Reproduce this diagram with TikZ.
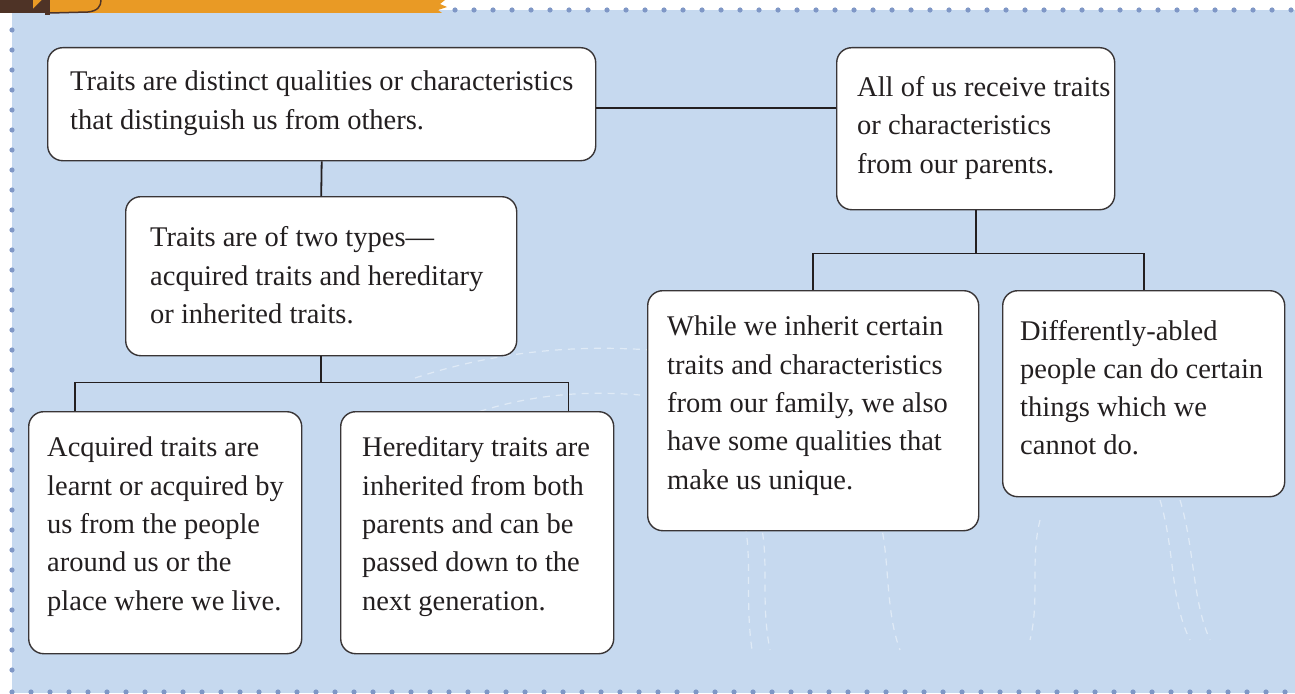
\documentclass[tikz,border=0pt]{standalone}
\usepackage{fontspec}
\setmainfont{Liberation Serif}
\usetikzlibrary{calc}
\definecolor{bgblue}{HTML}{C6D9EF}
\definecolor{dotblue}{HTML}{7F97C6}
\definecolor{band}{HTML}{E99A25}
\definecolor{brown}{HTML}{4E3326}
\definecolor{ink}{HTML}{231F20}
\tikzset{
  box/.style={draw=ink!90, line width=1.4pt, fill=white, rounded corners=15pt, inner sep=0pt, anchor=north west},
  txt/.style={anchor=west, align=left, inner sep=0pt, text=ink, font=\fontsize{28.5}{38.3}\selectfont},
  conn/.style={draw=ink, line width=1.8pt},
  dot/.style={fill=dotblue, draw=none},
  tex/.style={draw=white, opacity=0.45, line width=1.2pt, dash pattern=on 7pt off 6pt}
}
\begin{document}
\begin{tikzpicture}[x=1pt,y=-1pt]
\useasboundingbox (0,0) rectangle (1295,693);
% background
\fill[bgblue] (12,10) rectangle (1295,693);
% faint texture
\draw[tex] (415,378) .. controls (500,350) and (580,345) .. (650,350);
\draw[tex] (455,420) .. controls (520,395) and (580,390) .. (640,395);
\draw[tex] (395,470) .. controls (420,520) and (425,580) .. (420,640);
\draw[tex] (760,520) .. controls (770,560) and (760,600) .. (770,650);
\draw[tex] (745,525) .. controls (752,560) and (745,600) .. (752,650);
\draw[tex] (880,520) .. controls (890,560) and (885,610) .. (900,650);
\draw[tex] (1160,500) .. controls (1175,550) and (1170,600) .. (1190,640);
\draw[tex] (1180,500) .. controls (1195,550) and (1192,600) .. (1210,640);
\draw[tex] (1040,520) .. controls (1030,560) and (1040,600) .. (1030,640);
% top band
\fill[band] (0,0) -- (445,0) -- (440,4) -- (447,7) -- (438,10) -- (442,13) -- (0,13) -- cycle;
\fill[brown] (0,0) rectangle (33,13);
\fill[brown] (33,9) -- (42,0) -- (45,0) -- (45,13) -- (33,13) -- cycle;
\fill[brown] (45,0) rectangle (50,15);
\draw[brown, line width=1.5pt] (50,13) -- (88,12) .. controls (98,11) and (101,6) .. (101,0);
% dots
\foreach \i in {0,...,44} { \fill[dot] (455+19*\i,10) circle (2.6); }
\foreach \i in {0,...,32} { \fill[dot] (12,30+20*\i) circle (2.6); }
\foreach \i in {0,...,67} { \fill[dot] (12+19*\i,692) circle (2.6); }
% boxes
\node[box, minimum width=548, minimum height=113] (a) at (47,47) {};
\node[txt] (at) at ([xshift=23pt,yshift=1pt]a.west) {Traits are distinct qualities or characteristics\\that distinguish us from others.};
\node[box, minimum width=278, minimum height=162] (b) at (836,47) {};
\node[txt] (bt) at ([xshift=21pt,yshift=1pt]b.west) {All of us receive traits\\or characteristics\\from our parents.};
\node[box, minimum width=391, minimum height=159] (c) at (125,196) {};
\node[txt] (ct) at ([xshift=25pt,yshift=1pt]c.west) {Traits are of two types—\\acquired traits and hereditary\\or inherited traits.};
\node[box, minimum width=273, minimum height=242] (d) at (28,411) {};
\node[txt] (dt) at ([xshift=19pt,yshift=6pt]d.west) {Acquired traits are\\learnt or acquired by\\us from the people\\around us or the\\place where we live.};
\node[box, minimum width=273, minimum height=242] (e) at (340,411) {};
\node[txt] (et) at ([xshift=22pt,yshift=6pt]e.west) {Hereditary traits are\\inherited from both\\parents and can be\\passed down to the\\next generation.};
\node[box, minimum width=331, minimum height=240] (f) at (647,290) {};
\node[txt] (ft) at ([xshift=20pt,yshift=5pt]f.west) {While we inherit certain\\traits and characteristics\\from our family, we also\\have some qualities that\\make us unique.};
\node[box, minimum width=282, minimum height=206] (g) at (1002,290) {};
\node[txt] (gt) at ([xshift=18pt,yshift=6pt]g.west) {Differently-abled\\people can do certain\\things which we\\cannot do.};
% connectors
\draw[conn] ([yshift=-3.5pt]a.east) -- ([yshift=-3.5pt]a.east -| b.west);
\draw[conn] (a.south) -- (c.north);
\draw[conn] (c.south) -- ++(0,26) coordinate (cj);
\draw[conn] ([xshift=47pt]d.north west) |- (cj) -| ([xshift=-46pt]e.north east);
\draw[conn] (b.south) -- ++(0,43) coordinate (bj);
\draw[conn] (f.north) |- (bj) -| (g.north);
\end{tikzpicture}
\end{document}
